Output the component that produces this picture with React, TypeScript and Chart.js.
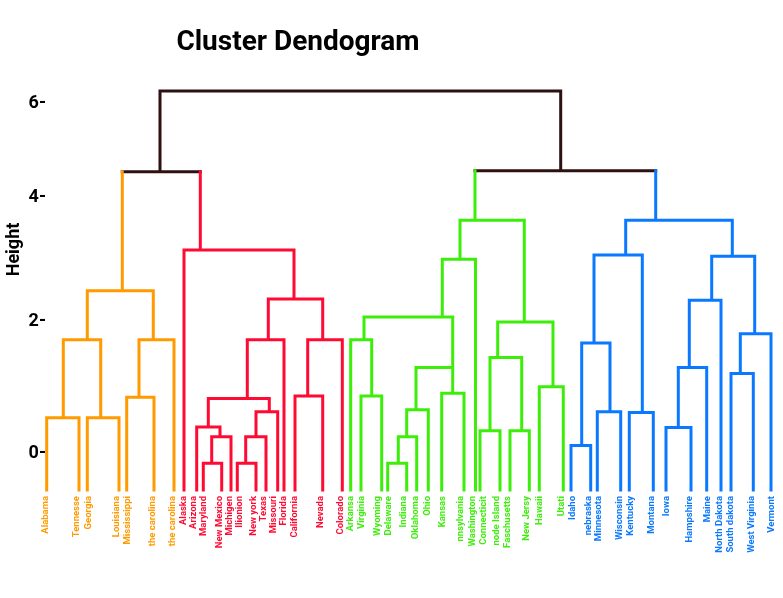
import React, { useEffect, useRef } from 'react';
import { Chart, registerables, LinearScale } from 'chart.js';

// ---------- data ----------
const chartTitle = 'Cluster Dendogram';
const yAxisTitle = 'Height';

const leafNames = [
  'Alabama', 'Tennesse', 'Georgia', 'Louisiana', 'Mississippi', 'the carolina', 'the carolina',
  'Alaska', 'Arizona', 'Maryland', 'New Mexico', 'Michigen', 'Ilionion', 'New york', 'Texas',
  'Missouri', 'Florida', 'California', 'Nevada', 'Colorado',
  'Arkansa', 'Virginia', 'Wyoming', 'Delaware', 'Indiana', 'Oklahoma', 'Ohio', 'Kansas',
  'nnsylvania', 'Washington', 'Connecticit', 'node Island', 'Faschusetts', 'New Jersy', 'Hawaii', 'Utati',
  'Idaho', 'nebraska', 'Minnesota', 'Wisconsin', 'Kentucky', 'Montana', 'Iowa', 'Hampshire',
  'Maine', 'North Dakota', 'South dakota', 'West Virginia', 'Vermont',
];

// position of each leaf along the leaf axis
const leafPos = [
  0.07, 3.3, 4.13, 7.3, 8.07, 10.8, 12.8,
  13.8, 15.07, 15.73, 17.57, 18.5, 19.13, 21.0, 22.0, 23.17, 23.8, 24.9, 27.67, 29.63,
  30.47, 31.5, 33.57, 34.17, 36.07, 37.07, 38.23, 39.57, 41.8, 42.95, 43.4, 45.4, 46.4, 48.33, 49.33, 51.73,
  52.5, 54.47, 55.13, 57.47, 58.33, 60.73, 62.0, 64.5, 66.07, 67.5, 68.5, 70.73, 72.5,
];

// position of each leaf's name along the same axis
const labelPos = [
  0.0, 3.1, 4.3, 7.1, 8.2, 10.7, 12.7,
  13.8, 14.8, 15.8, 17.4, 18.4, 19.4, 20.8, 21.8, 22.8, 23.8, 24.9, 27.5, 29.5,
  30.5, 31.6, 33.2, 34.3, 35.8, 37.0, 38.2, 39.7, 41.5, 42.7, 43.8, 45.1, 46.2, 48.1, 49.4, 51.6,
  52.7, 54.3, 55.3, 57.4, 58.5, 60.6, 62.1, 64.4, 66.2, 67.4, 68.5, 70.6, 72.6,
];

const leafCluster = [
  'A', 'A', 'A', 'A', 'A', 'A', 'A',
  'B', 'B', 'B', 'B', 'B', 'B', 'B', 'B', 'B', 'B', 'B', 'B', 'B',
  'C', 'C', 'C', 'C', 'C', 'C', 'C', 'C', 'C', 'C', 'C', 'C', 'C', 'C', 'C', 'C',
  'D', 'D', 'D', 'D', 'D', 'D', 'D', 'D', 'D', 'D', 'D', 'D', 'D',
];

// merges: children are leaf indices (numbers) or merge ids (strings)
const mergeIds = [
  'O1', 'O2', 'O3', 'O4', 'O5', 'O6',
  'R1', 'R2', 'R3', 'R4', 'R5', 'R6', 'R7', 'R8', 'R9', 'R10', 'R11', 'R12',
  'G1', 'G2', 'G3', 'G4', 'G5', 'G6', 'G7', 'G8', 'G9', 'G10', 'G11', 'G12', 'G13', 'G14', 'G15',
  'B1', 'B2', 'B3', 'B4', 'B5', 'B6', 'B7', 'B8', 'B9', 'B10', 'B11', 'B12',
  'L', 'Rt', 'Top',
];
const mergeLeft: (number | string)[] = [
  0, 2, 'O1', 4, 'O4', 'O3',
  9, 'R1', 8, 12, 'R4', 'R5', 'R3', 'R7', 17, 'R9', 'R8', 7,
  21, 20, 23, 'G3', 'G4', 27, 'G5', 'G2', 'G8', 30, 32, 'G10', 34, 'G12', 'G9',
  36, 38, 'B1', 40, 'B3', 42, 'B6', 'B7', 46, 'B9', 'B8', 'B5',
  'O6', 'G15', 'L',
];
const mergeRight: (number | string)[] = [
  1, 3, 'O2', 5, 6, 'O5',
  10, 11, 'R2', 13, 14, 15, 'R6', 16, 18, 19, 'R10', 'R11',
  22, 'G1', 24, 25, 26, 28, 'G6', 'G7', 29, 31, 33, 'G11', 35, 'G13', 'G14',
  37, 39, 'B2', 41, 'B4', 43, 44, 45, 47, 48, 'B10', 'B11',
  'R12', 'B12', 'Rt',
];
const mergeHeight = [
  0.52, 0.52, 1.70, 0.83, 1.70, 2.47,
  -0.17, 0.23, 0.38, -0.17, 0.23, 0.61, 0.81, 1.70, 0.85, 1.70, 2.34, 3.13,
  0.85, 1.70, -0.17, 0.23, 0.64, 0.89, 1.28, 2.05, 2.98, 0.32, 0.32, 1.43, 0.99, 1.97, 3.61,
  0.10, 0.61, 1.65, 0.60, 3.05, 0.37, 1.28, 2.32, 1.19, 1.79, 3.03, 3.61,
  4.51, 4.53, 6.21,
];
const mergePos = [
  1.73, 5.47, 4.13, 9.3, 10.73, 7.63,
  16.57, 17.4, 16.23, 19.97, 21.0, 22.33, 20.13, 22.23, 26.17, 27.67, 24.8, 15.43,
  32.57, 31.8, 35.23, 36.07, 37.0, 40.67, 40.67, 39.63, 41.4, 44.4, 47.57, 45.17, 50.7, 47.83, 42.9,
  53.57, 56.4, 54.8, 59.63, 57.97, 63.23, 64.33, 66.57, 69.43, 70.87, 68.63, 60.97,
  11.4, 51.47, 31.4,
];
const mergeCluster = [
  'A', 'A', 'A', 'A', 'A', 'A',
  'B', 'B', 'B', 'B', 'B', 'B', 'B', 'B', 'B', 'B', 'B', 'B',
  'C', 'C', 'C', 'C', 'C', 'C', 'C', 'C', 'C', 'C', 'C', 'C', 'C', 'C', 'C',
  'D', 'D', 'D', 'D', 'D', 'D', 'D', 'D', 'D', 'D', 'D', 'D',
  'K', 'K', 'K',
];

const yTickValues = [0, 2, 4, 6];
// relative vertical spacing of the printed height ticks (the axis is not evenly spaced)
const heightKnots = [0, 2, 4, 6];
const heightKnotSpacing = [0, 132, 256, 351];
const yMin = -0.576;
const yMax = 7.937;
const xMin = 0;
const xMax = 73.7;

// ---------- styles ----------
const clusterColors: Record<string, string> = {
  A: '#FF9A00',
  B: '#FF0A33',
  C: '#3CEE0A',
  D: '#0A78FF',
  K: '#2E1010',
};

function warp(v: number) {
  const k = heightKnots, s = heightKnotSpacing, n = k.length;
  let i = 0;
  if (v <= k[0]) i = 0;
  else if (v >= k[n - 1]) i = n - 2;
  else while (v > k[i + 1]) i++;
  return s[i] + ((v - k[i]) * (s[i + 1] - s[i])) / (k[i + 1] - k[i]);
}
function unwarp(u: number) {
  const k = heightKnots, s = heightKnotSpacing, n = k.length;
  let i = 0;
  if (u <= s[0]) i = 0;
  else if (u >= s[n - 1]) i = n - 2;
  else while (u > s[i + 1]) i++;
  return k[i] + ((u - s[i]) * (k[i + 1] - k[i])) / (s[i + 1] - s[i]);
}

class WarpedScale extends LinearScale {
  static id = 'warped';
  static defaults = LinearScale.defaults;
  getPixelForValue(value: any) {
    if (value === null || value === undefined || isNaN(value)) return NaN;
    const u0 = warp(this.min), u1 = warp(this.max);
    return this.getPixelForDecimal((warp(value) - u0) / (u1 - u0));
  }
  getValueForPixel(pixel: number) {
    const u0 = warp(this.min), u1 = warp(this.max);
    return unwarp(u0 + this.getDecimalForPixel(pixel) * (u1 - u0));
  }
}

Chart.register(...registerables, WarpedScale as any);

function buildDatasets() {
  const idx = (ref: number | string) => mergeIds.indexOf(ref as string);
  const posOf = (r: number | string) => (typeof r === 'number' ? leafPos[r] : mergePos[idx(r)]);
  const hOf = (r: number | string) => (typeof r === 'number' ? yMin : mergeHeight[idx(r)]);
  const cOf = (r: number | string) => (typeof r === 'number' ? leafCluster[r] : mergeCluster[idx(r)]);
  const segs: Record<string, any[]> = {};
  const add = (c: string, x1: number, y1: number, x2: number, y2: number) => {
    if (!segs[c]) segs[c] = [];
    segs[c].push({ x: x1, y: y1 }, { x: x2, y: y2 }, { x: x2, y: null });
  };
  mergeIds.forEach((_, i) => {
    const h = mergeHeight[i];
    const l = mergeLeft[i], r = mergeRight[i];
    add(mergeCluster[i], posOf(l), h, posOf(r), h);
    add(cOf(l), posOf(l), hOf(l), posOf(l), h);
    add(cOf(r), posOf(r), hOf(r), posOf(r), h);
  });
  return ['A', 'B', 'C', 'D', 'K'].map((c) => ({
    label: c,
    data: segs[c] || [],
    borderColor: clusterColors[c],
    backgroundColor: clusterColors[c],
    borderWidth: 3,
    borderCapStyle: 'square' as const,
    pointRadius: 0,
    pointHoverRadius: 0,
    spanGaps: false,
    tension: 0,
    clip: false as any,
  }));
}

const titlePlugin = {
  id: 'dendroTitle',
  afterDraw(chart: any) {
    const ctx = chart.ctx;
    ctx.save();
    ctx.font = 'bold 28px Roboto';
    ctx.fillStyle = '#000000';
    ctx.textAlign = 'center';
    ctx.textBaseline = 'middle';
    ctx.fillText(chartTitle, 298, 43);
    ctx.restore();
  },
};

export default function App() {
  const ref = useRef<HTMLCanvasElement>(null);
  useEffect(() => {
    document.body.style.margin = '0';
    document.body.style.overflow = 'hidden';
    if (!ref.current) return;
    const chart = new Chart(ref.current, {
      type: 'line',
      data: { datasets: buildDatasets() as any },
      options: {
        responsive: false,
        animation: false,
        layout: { padding: { top: 9, left: 0, right: 0, bottom: 0 } },
        plugins: { legend: { display: false }, tooltip: { enabled: false }, title: { display: false } },
        scales: {
          x: {
            type: 'linear',
            min: xMin,
            max: xMax,
            grid: { display: false, drawTicks: false },
            border: { display: false },
            afterBuildTicks: (scale: any) => {
              scale.ticks = labelPos.map((v) => ({ value: v }));
            },
            afterFit: (scale: any) => {
              scale.height = 108;
              scale.paddingLeft = 0;
              scale.paddingRight = 0;
            },
            ticks: {
              autoSkip: false,
              minRotation: 90,
              maxRotation: 90,
              padding: 6,
              font: { family: 'Roboto', weight: 'bold', size: 9.5 },
              color: (ctx: any) => clusterColors[leafCluster[ctx.index]] || '#000',
              callback: (_v: any, i: number) => leafNames[i],
            },
          },
          y: {
            type: 'warped' as any,
            min: yMin,
            max: yMax,
            grid: { display: false, drawTicks: false },
            border: { display: false },
            afterBuildTicks: (scale: any) => {
              scale.ticks = yTickValues.map((v) => ({ value: v }));
            },
            afterFit: (scale: any) => {
              scale.width = 46;
              scale.paddingTop = 0;
              scale.paddingBottom = 0;
            },
            ticks: {
              padding: 0,
              labelOffset: 2,
              color: '#000000',
              font: { family: 'Roboto', weight: 'bold', size: 18 },
              callback: (v: any) => `${v}-`,
            },
            title: {
              display: true,
              text: yAxisTitle,
              color: '#000000',
              font: { family: 'Roboto', weight: 'bold', size: 18 },
              padding: { top: 4, bottom: 0 },
            },
          } as any,
        },
      },
      plugins: [titlePlugin],
    });
    return () => chart.destroy();
  }, []);
  return (
    <div style={{ width: 783, height: 598 }}>
      <canvas ref={ref} width={783} height={598} style={{ width: 783, height: 598, display: 'block' }} />
    </div>
  );
}
